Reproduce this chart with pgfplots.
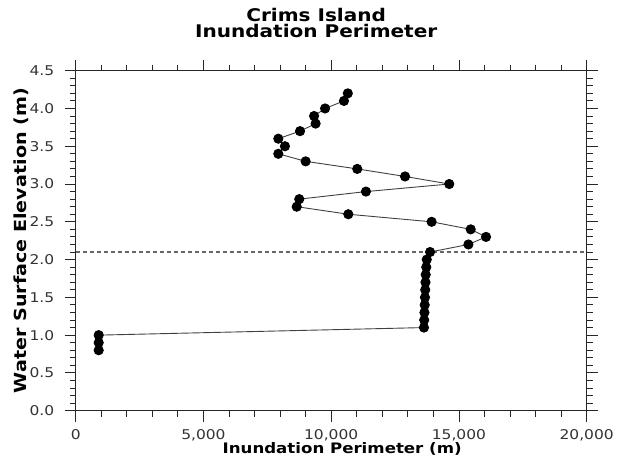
\documentclass[border=0pt]{standalone}
\usepackage{fontspec}
\setmainfont{DejaVu Sans}[FakeStretch=1.15]
\usepackage{pgfplots}
\pgfplotsset{compat=1.18}
\begin{document}
\begin{tikzpicture}
\begin{axis}[
  name=ax,
  scale only axis,
  width=511bp, height=340bp,
  xmin=0, xmax=20000, ymin=0, ymax=4.5,
  xtick={0,5000,10000,15000,20000},
  ytick={0,0.5,1,1.5,2,2.5,3,3.5,4,4.5},
  minor x tick num=4, minor y tick num=4,
  tick align=outside,
  major tick length=11bp, minor tick length=6bp,
  every tick/.style={black!85, line width=0.9bp},
  axis line style={line width=1.1bp, black!85},
  scaled x ticks=false,
  /pgf/number format/assume math mode=true,
  xticklabel style={/pgf/number format/1000 sep={,}, font=\fontsize{13.5}{16}\selectfont,
    text=black!80, yshift=-4bp},
  yticklabel style={/pgf/number format/fixed, /pgf/number format/fixed zerofill,
    /pgf/number format/precision=1, font=\fontsize{13.5}{16}\selectfont, text=black!80,
    xshift=-7bp},
  title={Crims Island\\Inundation Perimeter},
  title style={align=center, font=\bfseries\fontsize{17.5}{16}\selectfont,
    at={(axis description cs:0.4706,1.08)}, anchor=south, inner sep=0pt},
  xlabel={Inundation Perimeter (m)},
  xlabel style={font=\bfseries\fontsize{14.5}{17}\selectfont,
    at={(axis description cs:0.5215,-0.125)}, anchor=base, inner sep=0pt},
  ylabel={Water Surface Elevation (m)},
  ylabel style={font=\bfseries\fontsize{16.7}{19}\selectfont,
    at={(axis description cs:-0.0959,0.5)}, anchor=base, rotate=0, inner sep=0pt},
  clip=false,
]
\addplot[black!60, line width=1.2bp, dash pattern=on 4.5bp off 2.5bp]
  coordinates {(0,2.1)(20000,2.1)};
\addplot[black!75, line width=0.9bp, mark=*, mark size=4.6bp,
  mark options={fill=black, draw=black, solid}] coordinates {
  (10650,4.2)(10500,4.1)(9760,4.0)(9330,3.9)(9390,3.8)(8780,3.7)
  (7930,3.6)(8190,3.5)(7930,3.4)(9000,3.3)(11020,3.2)(12890,3.1)
  (14620,3.0)(11360,2.9)(8750,2.8)(8650,2.7)(10670,2.6)(13930,2.5)
  (15460,2.4)(16060,2.3)(15370,2.2)(13870,2.1)
  (13740,2.0)(13720,1.9)(13700,1.8)(13690,1.7)(13680,1.6)(13670,1.5)
  (13660,1.4)(13650,1.3)(13640,1.2)(13630,1.1)
  (900,1.0)(900,0.9)(900,0.8)};
\end{axis}
\path ([xshift=-75.7bp,yshift=-58.3bp]ax.south west)
  rectangle ([xshift=32.3bp,yshift=70.7bp]ax.north east);
\end{tikzpicture}
\end{document}
